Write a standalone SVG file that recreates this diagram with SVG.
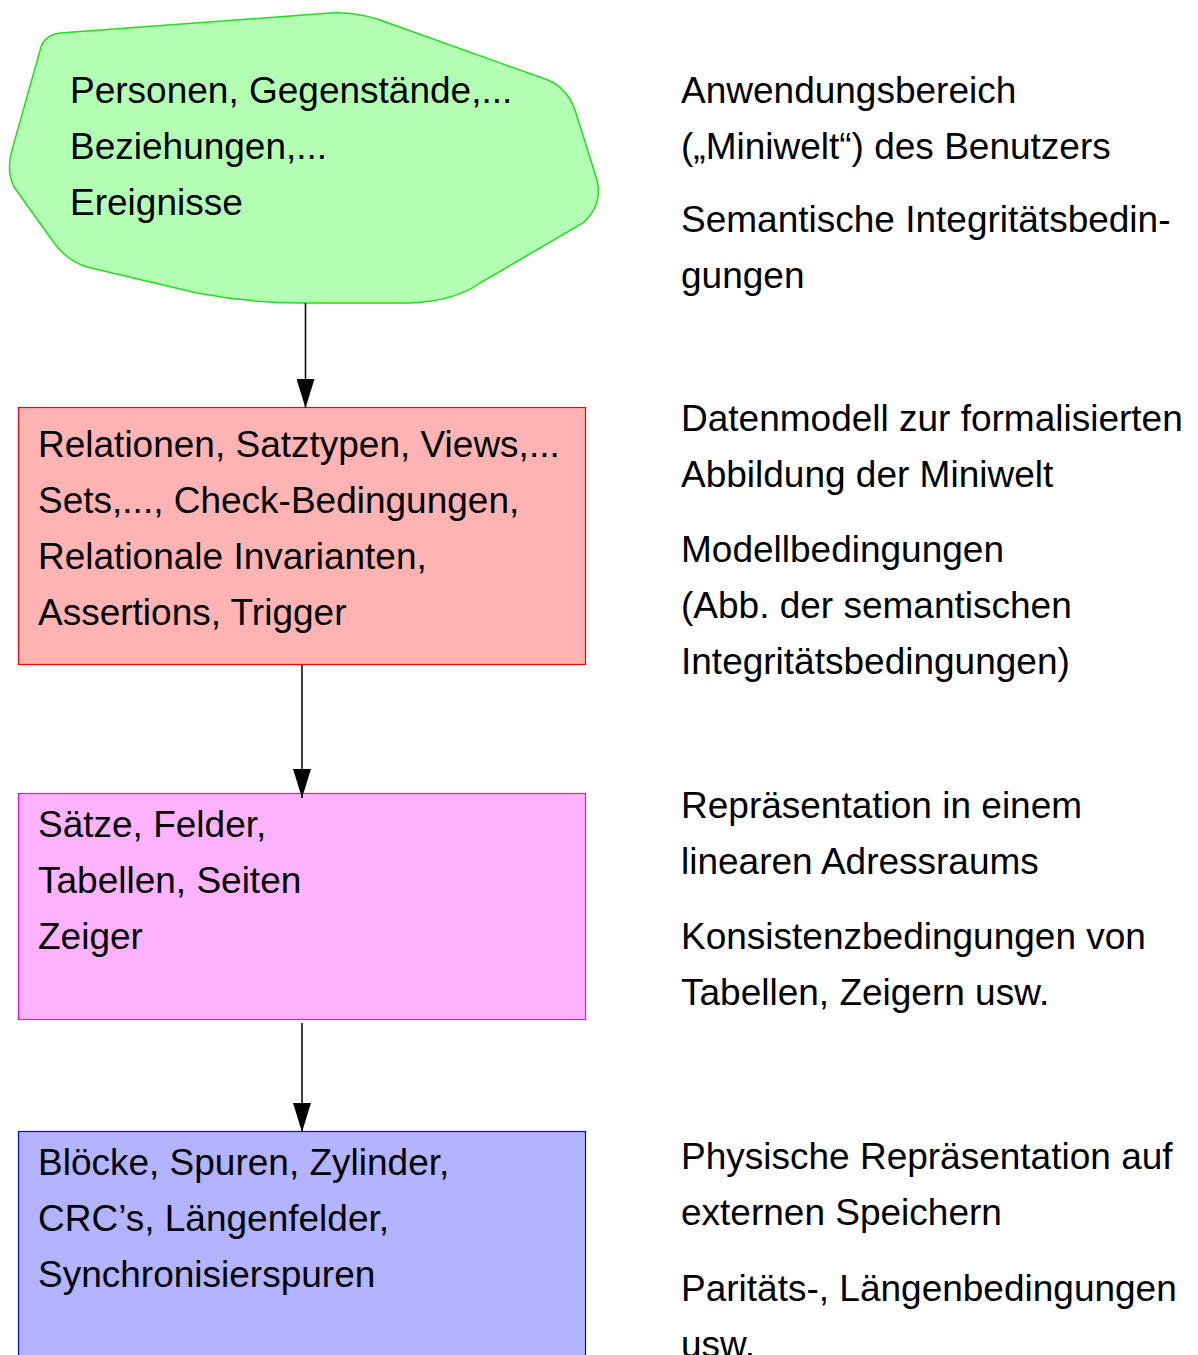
<svg xmlns="http://www.w3.org/2000/svg" width="1198" height="1355" viewBox="0 0 1198 1355">
<style>
text{font-family:"Liberation Sans",Arial,sans-serif;font-size:37px;fill:#000}
.conn line{stroke:#000;stroke-width:1.5}
</style>
<defs>
<marker id="ah" markerUnits="userSpaceOnUse" markerWidth="30" markerHeight="18" refX="29" refY="9" orient="auto">
<path d="M0,0 L29,9 L0,18 Z" fill="#000"/>
</marker>
</defs>
<rect width="1198" height="1355" fill="#fff"/>
<g id="miniwelt">
<path d="M41,47 Q45,35 60,33 L330,13 Q360,11 394,25 L548,80 Q567,88 575,110 L597,180 Q603,205 583,223 L480,283 Q455,301 410,303 L300,303 Q250,303 197,293 L87,267 Q65,260 52,240 L14,187 Q6,170 12,150 Z" fill="#b3ffb3" stroke="#22dd22" stroke-width="1.5"/>
<text x="70" y="103">Personen, Gegenstände,...</text>
<text x="70" y="159">Beziehungen,...</text>
<text x="70" y="215">Ereignisse</text>
</g>
<g id="datenmodell">
<rect x="18.5" y="407.5" width="567" height="257" fill="#ffb3b3" stroke="#ff0000" stroke-width="1.2"/>
<text x="38" y="457">Relationen, Satztypen, Views,...</text>
<text x="38" y="513">Sets,..., Check-Bedingungen,</text>
<text x="38" y="569">Relationale Invarianten,</text>
<text x="38" y="625">Assertions, Trigger</text>
</g>
<g id="speicher">
<rect x="18.5" y="793.5" width="567" height="226" fill="#ffb3ff" stroke="#ff00ff" stroke-width="1.2"/>
<text x="38" y="837">Sätze, Felder,</text>
<text x="38" y="893">Tabellen, Seiten</text>
<text x="38" y="949">Zeiger</text>
</g>
<g id="physisch">
<rect x="18.5" y="1131.5" width="567" height="240" fill="#b3b3ff" stroke="#0000ff" stroke-width="1.2"/>
<text x="38" y="1175">Blöcke, Spuren, Zylinder,</text>
<text x="38" y="1231">CRC’s, Längenfelder,</text>
<text x="38" y="1287">Synchronisierspuren</text>
</g>
<g id="beschreibungen">
<text x="681" y="103">Anwendungsbereich</text>
<text x="681" y="159">(„Miniwelt“) des Benutzers</text>
<text x="681" y="232">Semantische Integritätsbedin-</text>
<text x="681" y="288">gungen</text>
<text x="681" y="431">Datenmodell zur formalisierten</text>
<text x="681" y="487">Abbildung der Miniwelt</text>
<text x="681" y="562">Modellbedingungen</text>
<text x="681" y="618">(Abb. der semantischen</text>
<text x="681" y="674">Integritätsbedingungen)</text>
<text x="681" y="818">Repräsentation in einem</text>
<text x="681" y="874">linearen Adressraums</text>
<text x="681" y="949">Konsistenzbedingungen von</text>
<text x="681" y="1005">Tabellen, Zeigern usw.</text>
<text x="681" y="1169">Physische Repräsentation auf</text>
<text x="681" y="1225">externen Speichern</text>
<text x="681" y="1301">Paritäts-, Längenbedingungen</text>
<text x="681" y="1357">usw.</text>
</g>
<g class="conn" id="connectors">
<line x1="305.5" y1="303" x2="305.5" y2="408" marker-end="url(#ah)"/>
<line x1="302" y1="665" x2="302" y2="798" marker-end="url(#ah)"/>
<line x1="302" y1="1023" x2="302" y2="1132" marker-end="url(#ah)"/>
</g>
</svg>
